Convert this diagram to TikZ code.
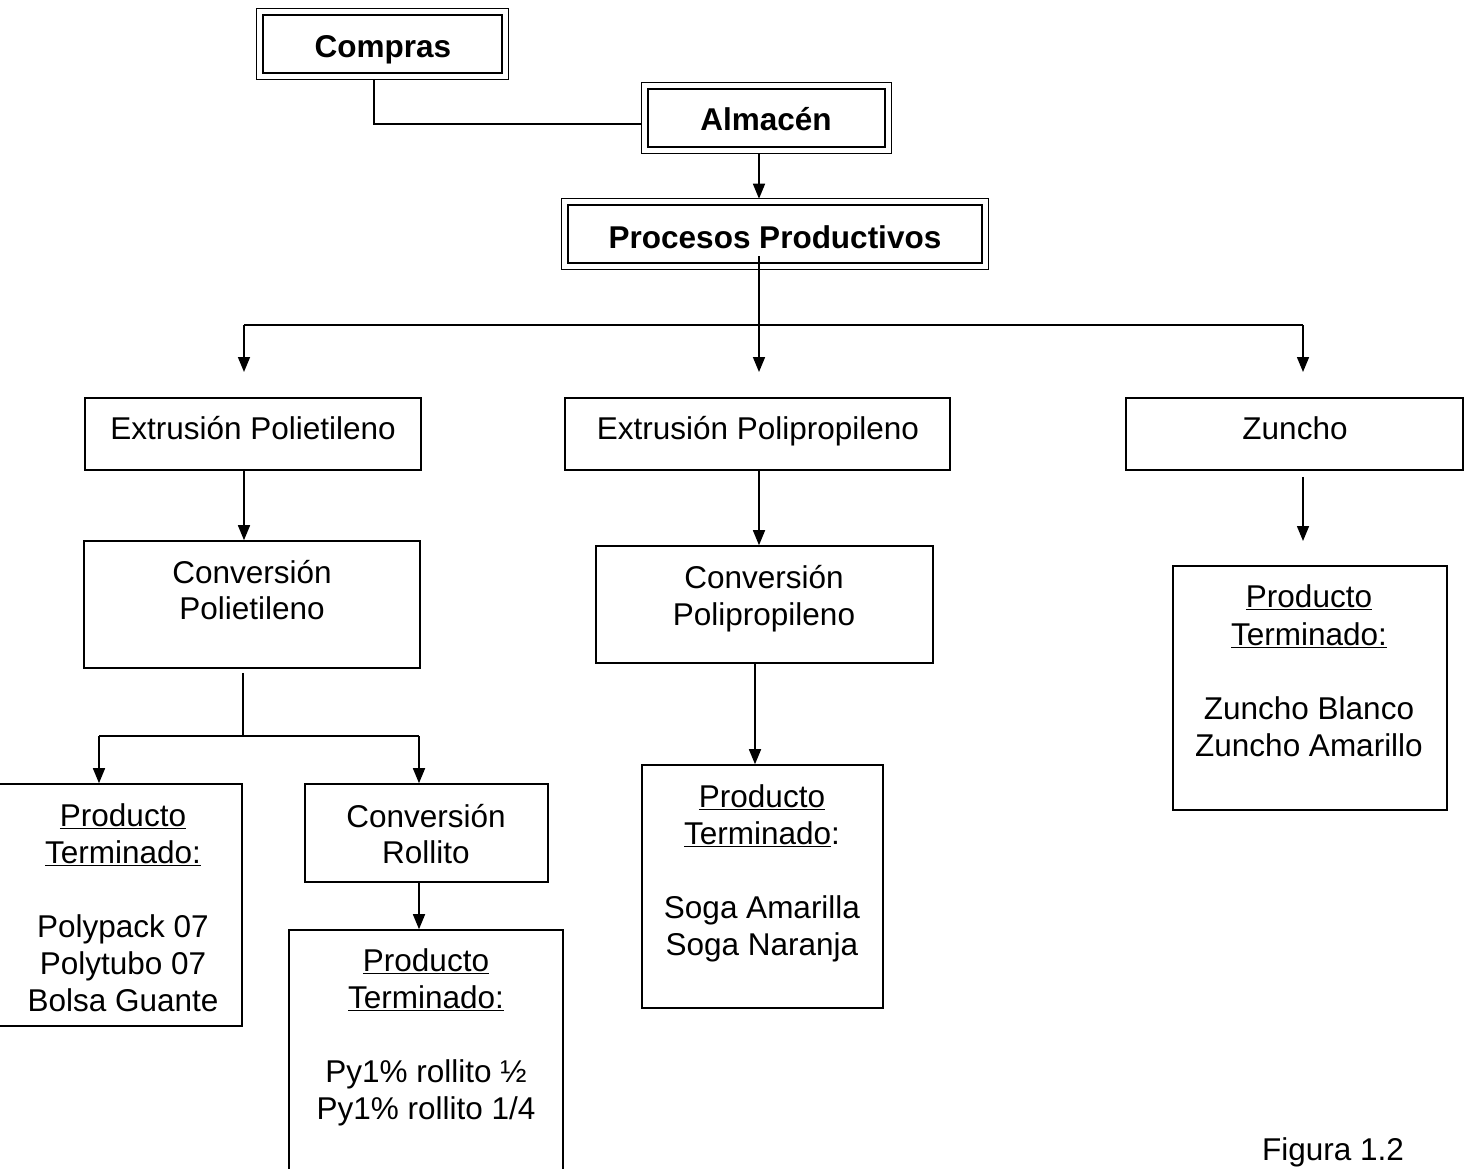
\documentclass[tikz,border=0pt]{standalone}
\usepackage{fontspec}
\setmainfont{Liberation Sans}
\usetikzlibrary{arrows.meta}
\newcommand\dgfont{\fontsize{31.5}{37}\selectfont}
\tikzset{
  box/.style={draw, line width=1.6pt, inner sep=0pt},
  dbox/.style={draw, line width=2.6pt, inner sep=0pt},
  ln/.style={line width=1.6pt},
  arr/.style={line width=1.6pt, -{Triangle[length=15pt,width=12pt]}},
  txt/.style={anchor=base, inner sep=0pt, font=\dgfont},
  btxt/.style={anchor=base, inner sep=0pt, font=\dgfont\bfseries},
}
\begin{document}
\begin{tikzpicture}[x=1pt,y=-1pt]
\useasboundingbox (0,0) rectangle (1469,1169);
\fill[white] (0,0) rectangle (1469,1169);
\clip (0,0) rectangle (1469,1169);

% double-framed boxes
\node[dbox, minimum width=239pt, minimum height=58pt] (co) at (382.5,44) {};
\node[dbox, minimum width=237pt, minimum height=58pt] (al) at (766.5,118) {};
\node[dbox, minimum width=414pt, minimum height=58pt] (pp) at (775,234) {};
\foreach \n in {co,al,pp}
  \draw[line width=1.2pt] ([xshift=-5pt,yshift=5pt]\n.north west) rectangle ([xshift=5pt,yshift=-5pt]\n.south east);

% plain boxes
\node[box, minimum width=336pt, minimum height=72pt] (ep) at (253,434) {};
\node[box, minimum width=385pt, minimum height=72pt] (epp) at (757.5,434) {};
\node[box, minimum width=337pt, minimum height=72pt] (zu) at (1294.5,434) {};
\node[box, minimum width=336pt, minimum height=127pt] (cp) at (252,604.5) {};
\node[box, minimum width=337pt, minimum height=117pt] (cpp) at (764.5,604.5) {};
\node[box, minimum width=274pt, minimum height=244pt] (zp) at (1310,688) {};
\node[box, minimum width=247pt, minimum height=242pt] (lp) at (118.5,905) {};
\node[box, minimum width=243pt, minimum height=98pt] (cr) at (426.5,833) {};
\node[box, minimum width=274pt, minimum height=260pt] (rp) at (426,1060) {};
\node[box, minimum width=241pt, minimum height=243pt] (sp) at (762.5,886.5) {};

% texts
\node[btxt] (tco) at (383,58) {Compras};
\node[btxt] (tal) at (766,131) {Almacén};
\node[btxt] (tpp) at (775,248) {Procesos Productivos};
\node[txt] (tep) at (253,439) {Extrusión Polietileno};
\node[txt] (tepp) at (758,439) {Extrusión Polipropileno};
\node[txt] (tzu) at (1295,439) {Zuncho};
\node[txt] (tcp1) at (252,583) {Conversión};
\node[txt] (tcp2) at (252,619) {Polietileno};
\node[txt] (tcpp1) at (764,588) {Conversión};
\node[txt] (tcpp2) at (764,625) {Polipropileno};
\node[txt] (tlp1) at (123,826) {\underline{Producto}};
\node[txt] (tlp2) at (123,863) {\underline{Terminado:}};
\node[txt] (tlp3) at (123,937) {Polypack 07};
\node[txt] (tlp4) at (123,974) {Polytubo 07};
\node[txt] (tlp5) at (123,1011) {Bolsa Guante};
\node[txt] (tcr1) at (426,827) {Conversión};
\node[txt] (tcr2) at (426,863) {Rollito};
\node[txt] (trp1) at (426,971) {\underline{Producto}};
\node[txt] (trp2) at (426,1008) {\underline{Terminado:}};
\node[txt] (trp3) at (426,1082) {Py1\% rollito ½};
\node[txt] (trp4) at (426,1119) {Py1\% rollito 1/4};
\node[txt] (tsp1) at (762,807) {\underline{Producto}};
\node[txt] (tsp2) at (762,844) {\underline{Terminado}:};
\node[txt] (tsp3) at (762,918) {Soga Amarilla};
\node[txt] (tsp4) at (762,955) {Soga Naranja};
\node[txt] (tzp1) at (1309,607) {\underline{Producto}};
\node[txt] (tzp2) at (1309,645) {\underline{Terminado:}};
\node[txt] (tzp3) at (1309,719) {Zuncho Blanco};
\node[txt] (tzp4) at (1309,756) {Zuncho Amarillo};
\node[txt] (tfig) at (1333,1160) {Figura 1.2};

% connector coordinates
\coordinate (hub) at (759,325);
\coordinate (bl) at (244,325);
\coordinate (br) at (1303,325);
\coordinate (tl) at (244,372);
\coordinate (tm) at (759,372);
\coordinate (tr) at (1303,372);
\coordinate (za) at (1303,541);
\coordinate (sp1) at (243,736);
\coordinate (la) at (99,736);
\coordinate (ra) at (419,736);
\coordinate (cob) at ([xshift=-8.5pt,yshift=-5pt]co.south);
\coordinate (alw) at ([xshift=-5pt,yshift=-6pt]al.west);
\coordinate (alb) at ([yshift=-5pt]al.south);
\coordinate (ppt) at ([yshift=5pt]pp.north);
\coordinate (ppi) at ([yshift=8pt]pp.south);
\coordinate (zus) at ([yshift=-6pt]zu.south);
\coordinate (cps) at ([yshift=-4pt]cp.south);
\coordinate (cpps) at ([xshift=-9.5pt]cpp.south);

% connectors
\draw[ln] (cob) |- (alw);
\draw[arr] (alb -| hub) -- (ppt -| hub);
\draw[ln] (ppi -| hub) -- (hub);
\draw[ln] (bl) -- (br);
\draw[arr] (bl) -- (tl);
\draw[arr] (hub) -- (tm);
\draw[arr] (br) -- (tr);
\draw[arr] (bl |- ep.south) -- (bl |- cp.north);
\draw[arr] (hub |- epp.south) -- (hub |- cpp.north);
\draw[arr] (zus -| br) -- (za);
\draw[ln] (cps -| sp1) -- (sp1);
\draw[ln] (la) -- (ra);
\draw[arr] (la) -- (la |- lp.north);
\draw[arr] (ra) -- (ra |- cr.north);
\draw[arr] (ra |- cr.south) -- (ra |- rp.north);
\draw[arr] (cpps) -- (cpps |- sp.north);
\end{tikzpicture}
\end{document}
